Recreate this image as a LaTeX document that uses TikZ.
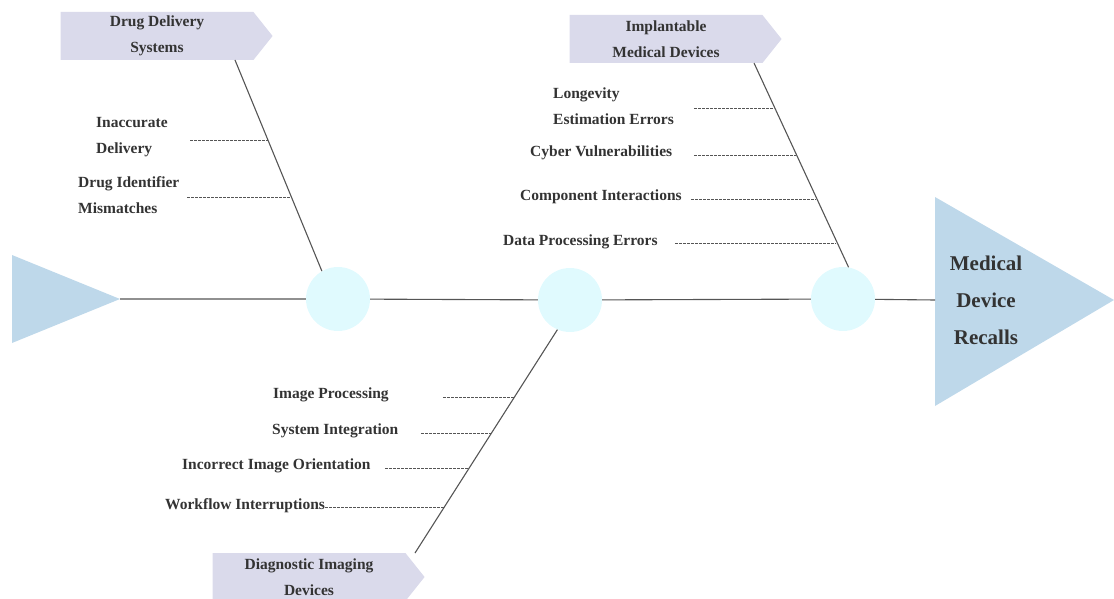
\documentclass[tikz,border=0pt]{standalone}
\usepackage{fontspec}
\setmainfont{Liberation Serif}
\usetikzlibrary{shapes.symbols}
\definecolor{spine}{RGB}{85,85,85}
\definecolor{txt}{RGB}{51,51,51}
\definecolor{catfill}{RGB}{218,218,235}
\definecolor{headfill}{RGB}{190,216,234}
\definecolor{joint}{RGB}{224,250,254}

\begin{document}
\begin{tikzpicture}[x=1pt,y=-1pt,
  bone/.style={draw=spine,line width=1.1pt},
  rib/.style={draw=spine,line width=0.7pt,dash pattern=on 2.6pt off 1.4pt},
  joint/.style={circle,fill=joint,minimum size=64pt,inner sep=0pt},
  cat/.style={signal,signal to=east,signal pointer angle=103,fill=catfill,
    minimum width=212pt,minimum height=48pt,inner sep=0pt,align=center,
    text=txt,font=\fontsize{15.5}{26}\selectfont\bfseries},
  cause/.style={anchor=west,inner sep=0pt,align=left,text=txt,
    font=\fontsize{15.5}{26}\selectfont\bfseries}]
\clip (0,0) rectangle (1114,599);

% fish tail and head
\fill[headfill] (12,255) -- (120,299) -- (12,343) -- cycle;
\coordinate (tail) at (120,299);
\fill[headfill] (935,197) -- (1114,300) -- (935,406) -- cycle;
\coordinate (head) at (935,300);
\node[align=center,text=txt,font=\fontsize{21}{37}\selectfont\bfseries] (effect) at (986,300)
  {Medical\\Device\\Recalls};

% spine
\node[joint] (c1) at (338,299) {};
\node[joint] (c2) at (570,300) {};
\node[joint] (c3) at (843,299) {};
\draw[bone] (tail) -- (c1) -- (c2) -- (c3) -- (head);

% categories
\node[cat] (drug) at (157,36) {Drug Delivery\\Systems};
\node[cat] (impl) at (666,39) {Implantable\\Medical Devices};
\node[cat] (diag) at (309,577) {Diagnostic Imaging\\Devices};
\coordinate (b1) at (235,60);
\coordinate (b2) at (754,63);
\coordinate (b3) at (415,553);
\draw[bone] (b1) -- (c1.120);
\draw[bone] (b2) -- (c3.80);
\draw[bone] (b3) -- (c2.247);

% causes
\node[cause] (d1) at (96,137) {Inaccurate\\Delivery};
\node[cause] (d2) at (78,195) {Drug Identifier\\Mismatches};
\node[cause] (i1) at (553,106) {Longevity\\Estimation Errors};
\node[cause] (i2) at (530,153) {Cyber Vulnerabilities};
\node[cause] (i3) at (520,197) {Component Interactions};
\node[cause] (i4) at (503,242) {Data Processing Errors};
\node[cause] (g1) at (273,395) {Image Processing};
\node[cause] (g2) at (272,431) {System Integration};
\node[cause] (g3) at (182,466) {Incorrect Image Orientation};
\node[cause] (g4) at (165,506) {Workflow Interruptions};

\coordinate (d1a) at (190,140); \coordinate (d1b) at (268,140);
\coordinate (d2a) at (187,197); \coordinate (d2b) at (291,197);
\coordinate (i1a) at (694,108); \coordinate (i1b) at (774,108);
\coordinate (i2a) at (694,155); \coordinate (i2b) at (796,155);
\coordinate (i3a) at (691,199); \coordinate (i3b) at (816,199);
\coordinate (i4a) at (675,243); \coordinate (i4b) at (836,243);
\coordinate (g1a) at (443,397); \coordinate (g1b) at (514,397);
\coordinate (g2a) at (421,433); \coordinate (g2b) at (491,433);
\coordinate (g3a) at (385,468); \coordinate (g3b) at (468,468);
\coordinate (g4a) at (g4.east|-0,507); \coordinate (g4b) at (444,507);
\foreach \r in {d1,d2,i1,i2,i3,i4,g1,g2,g3,g4}
  \draw[rib] (\r a) -- (\r b);
\end{tikzpicture}
\end{document}
